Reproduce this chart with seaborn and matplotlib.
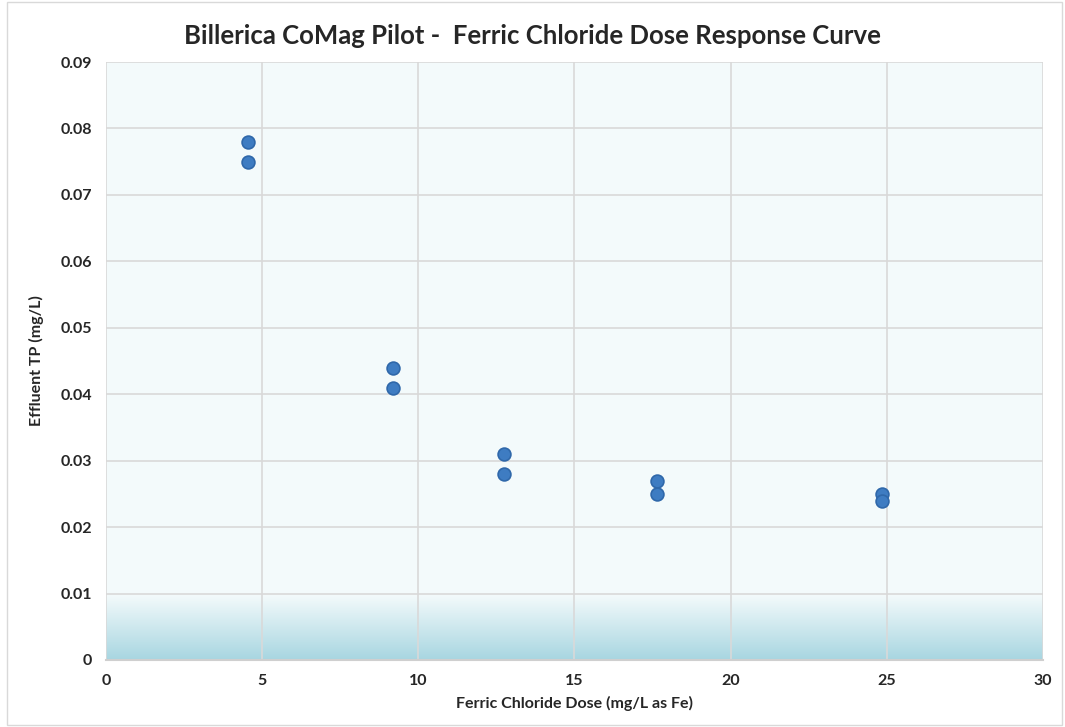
import matplotlib
matplotlib.use("Agg")
import matplotlib.pyplot as plt
import seaborn as sns
import numpy as np
import pandas as pd
from matplotlib.colors import LinearSegmentedColormap

dose = [4.55, 4.55, 9.2, 9.2, 12.75, 12.75, 17.65, 17.65, 24.85, 24.85]
tp = [0.078, 0.075, 0.044, 0.041, 0.031, 0.028, 0.027, 0.025, 0.025, 0.024]
x_ticks = [0, 5, 10, 15, 20, 25, 30]
y_ticks = [0, 0.01, 0.02, 0.03, 0.04, 0.05, 0.06, 0.07, 0.08, 0.09]
y_tick_labels = ["0", "0.01", "0.02", "0.03", "0.04", "0.05", "0.06", "0.07", "0.08", "0.09"]

df = pd.DataFrame({"dose": dose, "tp": tp})

sns.set_style("white")
plt.rcParams['font.family'] = ['Lato', 'DejaVu Sans']

fig = plt.figure(figsize=(10.65, 7.27), dpi=100)
ax = fig.add_axes([0.0995, 0.0922, 0.8798, 0.8225])

ax.set_facecolor("#f3fafb")
grad = np.linspace(0, 1, 100).reshape(-1, 1)
cmap = LinearSegmentedColormap.from_list("g", ["#f3fafb", "#a8d6e1"])
ax.imshow(grad, extent=[0, 30, 0, 0.0097], aspect='auto', cmap=cmap, origin='upper',
          zorder=0, vmin=0, vmax=1)

sns.scatterplot(data=df, x="dose", y="tp", ax=ax, s=85, color="#3e7cc2",
                edgecolor="#2f68aa", linewidth=1.2, zorder=3)

ax.set_xlim(0, 30)
ax.set_ylim(0, 0.09)
ax.set_xticks(x_ticks)
ax.set_xticklabels([str(t) for t in x_ticks])
ax.set_yticks(y_ticks)
ax.set_yticklabels(y_tick_labels)
ax.grid(True, color="#d9d9d9", linewidth=1.2)
ax.set_axisbelow(True)
for s in ["top", "right", "left"]:
    ax.spines[s].set_visible(False)
ax.spines["bottom"].set_color("#cfcfcf")
ax.spines["bottom"].set_linewidth(1.5)
ax.tick_params(axis='both', length=0, labelsize=11.5, pad=10)
for lab in ax.get_xticklabels() + ax.get_yticklabels():
    lab.set_fontweight("bold")

ax.set_xlabel("Ferric Chloride Dose (mg/L as Fe)", fontsize=11.5, fontweight="bold", labelpad=6)
ax.set_ylabel("Effluent TP (mg/L)", fontsize=11.5, fontweight="bold", labelpad=12)
fig.suptitle("Billerica CoMag Pilot -  Ferric Chloride Dose Response Curve",
             fontsize=18.5, fontweight="bold", y=0.967)

border = plt.Rectangle((0.007, 0.003), 0.99, 0.994, transform=fig.transFigure,
                       fill=False, edgecolor="#d9d9d9", linewidth=1)
fig.add_artist(border)

fig.savefig("out.png", dpi=100)
